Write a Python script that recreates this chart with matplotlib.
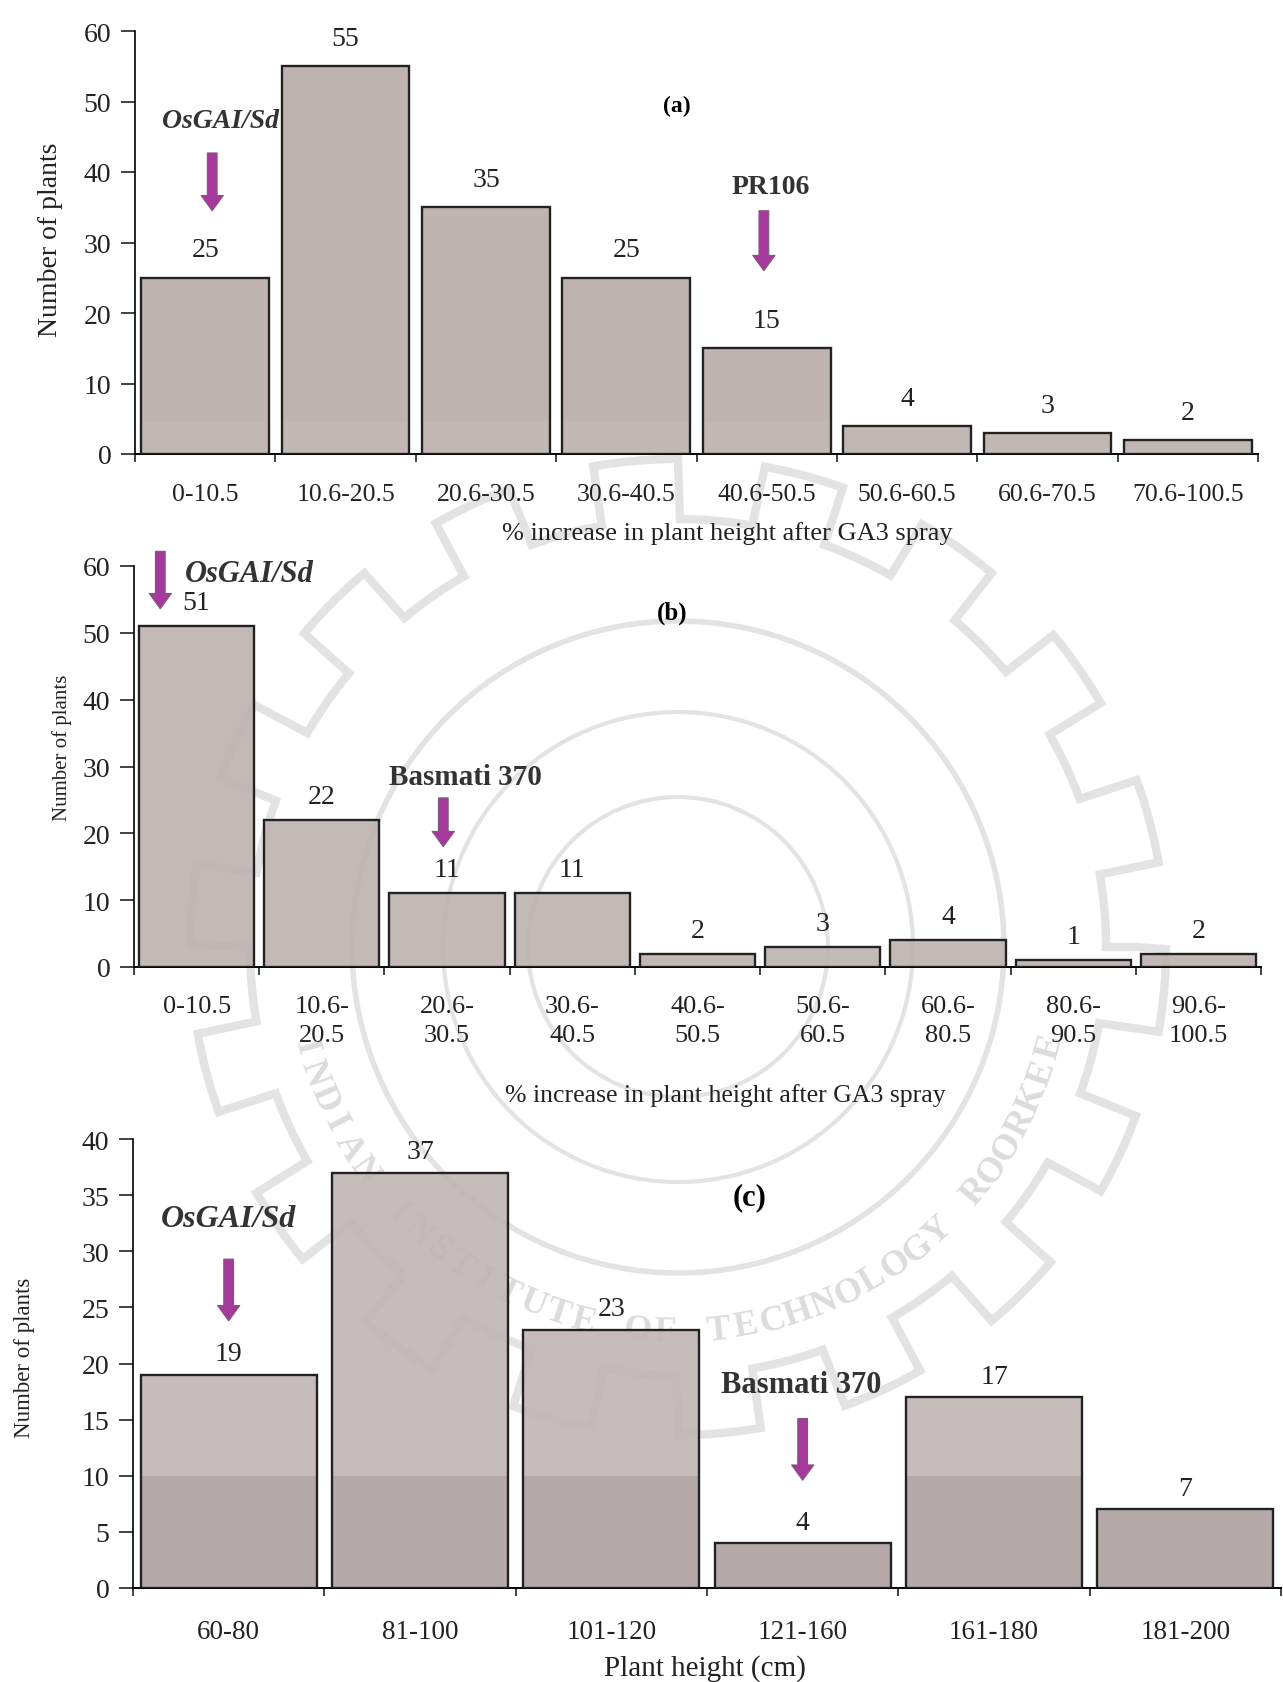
import numpy as np
import matplotlib
matplotlib.use('Agg')
import matplotlib.pyplot as plt
from matplotlib.patches import Circle, Polygon

plt.rcParams['font.family'] = ['Liberation Serif', 'DejaVu Serif']

labels_a = ['0-10.5', '10.6-20.5', '20.6-30.5', '30.6-40.5', '40.6-50.5', '50.6-60.5', '60.6-70.5', '70.6-100.5']
values_a = [25, 55, 35, 25, 15, 4, 3, 2]
labels_b = ['0-10.5', '10.6-\n20.5', '20.6-\n30.5', '30.6-\n40.5', '40.6-\n50.5', '50.6-\n60.5', '60.6-\n80.5', '80.6-\n90.5', '90.6-\n100.5']
values_b = [51, 22, 11, 11, 2, 3, 4, 1, 2]
labels_c = ['60-80', '81-100', '101-120', '121-160', '161-180', '181-200']
values_c = [19, 37, 23, 4, 17, 7]

W, H = 1283, 1683
fig = plt.figure(figsize=(W / 100, H / 100), dpi=100, facecolor='white')


def make_axes(left, right, top, bottom):
    return fig.add_axes([left / W, 1 - bottom / H, (right - left) / W, (bottom - top) / H])


# faint emblem behind the charts
bg = fig.add_axes([0, 0, 1, 1], zorder=0)
bg.set_xlim(0, W)
bg.set_ylim(H, 0)
bg.axis('off')
cx, cy = 678, 948
wm = '#e3e3e3'
t = np.linspace(0, 2 * np.pi, 1441)
r = 458 + 30 * np.sign(np.sin(18 * t))
bg.add_patch(Polygon(np.c_[cx + r * np.cos(t), cy + r * np.sin(t)], closed=True, fill=False, ec=wm, lw=6))
for rad, lw in [(326, 4), (235, 3), (150, 3)]:
    bg.add_patch(Circle((cx, cy), rad, fill=False, ec=wm, lw=lw))
word = 'INDIAN INSTITUTE OF TECHNOLOGY ROORKEE'
for ch, a in zip(word, np.linspace(165, 15, len(word))):
    rad = np.deg2rad(a)
    bg.text(cx + 385 * np.cos(rad), cy + 385 * np.sin(rad), ch, rotation=90 - a,
            ha='center', va='center', fontsize=26, color='#dcdcdc', fontweight='bold')


def draw_panel(ax, labels, values, ymax, step, width, band, top_col, band_col, xlabel, lab_fs, lab_pad, val_off,
               xlab_fs, xlab_pos, ylab_fs, ylab_pos, box):
    x = np.arange(len(values))
    left, right, top, bottom = box
    ax.patch.set_alpha(0)
    ax.bar(x, values, width=width, color=top_col, alpha=0.9, edgecolor='none', zorder=2)
    ax.bar(x, np.minimum(values, band), width=width, color=band_col, alpha=0.9, edgecolor='none', zorder=2)
    ax.bar(x, values, width=width, fill=False, edgecolor='#222222', linewidth=1.7, zorder=3)
    for xi, v in zip(x, values):
        ax.annotate(str(v), (xi, v), xytext=(0, val_off), textcoords='offset points', ha='center', va='center',
                    fontsize=20, color='#222222')
    ax.set_xlim(-0.5, len(values) - 0.5)
    ax.set_ylim(0, ymax)
    ax.set_yticks(np.arange(0, ymax + 1, step))
    ax.set_xticks(np.arange(len(values) + 1) - 0.5)
    ax.set_xticklabels([])
    ax.set_xticks(x, labels, minor=True)
    ax.tick_params(axis='x', which='minor', length=0, labelsize=lab_fs, pad=lab_pad, colors='#222222')
    ax.tick_params(axis='x', which='major', length=6, width=1.2, color='#222222')
    ax.tick_params(axis='y', length=10, width=1.2, labelsize=20, pad=7, color='#222222', labelcolor='#222222')
    for lab in ax.get_xticklabels(minor=True):
        lab.set_linespacing(1.45)
    ax.spines['top'].set_visible(False)
    ax.spines['right'].set_visible(False)
    ax.spines['left'].set_linewidth(1.2)
    ax.spines['bottom'].set_linewidth(1.4)
    ax.set_ylabel('Number of plants', fontsize=ylab_fs, color='#222222', va='center')
    ax.set_xlabel(xlabel, fontsize=xlab_fs, color='#222222', va='center')
    ax.xaxis.set_label_coords((xlab_pos[0] - left) / (right - left), (bottom - xlab_pos[1]) / (bottom - top))
    ax.yaxis.set_label_coords((ylab_pos[0] - left) / (right - left), (bottom - ylab_pos[1]) / (bottom - top))


def mark(ax, text, x, y_tail, y_tip, tx, ty, italic=False, size=20):
    ax.annotate('', xy=(x, y_tip), xytext=(x, y_tail),
                arrowprops=dict(arrowstyle='simple,head_width=1.6,head_length=1.1,tail_width=0.7',
                                shrinkA=0, shrinkB=0, fc='#a63a9c', ec='#7a5a7a', lw=0.8),
                zorder=5, annotation_clip=False)
    ax.text(tx, ty, text, fontsize=size, fontweight='bold', style='italic' if italic else 'normal',
            ha='center', va='center', color='#333333', zorder=5, clip_on=False)


box_a = (135, 1258, 32, 455)
ax_a = make_axes(*box_a)
draw_panel(ax_a, labels_a, values_a, 60, 10, 0.91, 4.5, '#b8acaa', '#c2b8b6',
           '% increase in plant height after GA3 spray', 18.5, 21, 20, 19, (727, 534), 20, (51, 240), box_a)
ax_a.text(3.36, 49.5, '(a)', fontsize=17, fontweight='bold', ha='center', va='center')
mark(ax_a, 'OsGAI/Sd', 0.05, 42.7, 34.5, 0.11, 47.3, italic=True)
mark(ax_a, 'PR106', 3.98, 34.5, 26, 4.03, 38)

box_b = (134, 1261, 567, 968)
ax_b = make_axes(*box_b)
draw_panel(ax_b, labels_b, values_b, 60, 10, 0.92, 0, '#bdb2b0', '#bdb2b0',
           '% increase in plant height after GA3 spray', 19, 20, 17, 18.5, (725, 1096), 15, (62, 748), box_b)
ax_b.text(3.8, 53, '(b)', fontsize=18, fontweight='bold', ha='center', va='center')
mark(ax_b, 'OsGAI/Sd', -0.29, 62.2, 53.6, 0.42, 58.9, italic=True, size=22)
mark(ax_b, 'Basmati 370', 1.97, 25.3, 18, 2.15, 28.5, size=21)

box_c = (133, 1281, 1140, 1589)
ax_c = make_axes(*box_c)
draw_panel(ax_c, labels_c, values_c, 40, 5, 0.92, 10, '#c0b5b4', '#b3a7a6',
           'Plant height (cm)', 19.5, 22, 15, 21, (705, 1669), 16.5, (25, 1358), box_c)
ax_c.text(2.72, 34.9, '(c)', fontsize=22, fontweight='bold', ha='center', va='center')
mark(ax_c, 'OsGAI/Sd', 0.0, 29.3, 23.8, 0.0, 32.9, italic=True, size=23)
mark(ax_c, 'Basmati 370', 3.0, 15.1, 9.6, 2.99, 18.1, size=22)

fig.savefig('out.png', dpi=100)
